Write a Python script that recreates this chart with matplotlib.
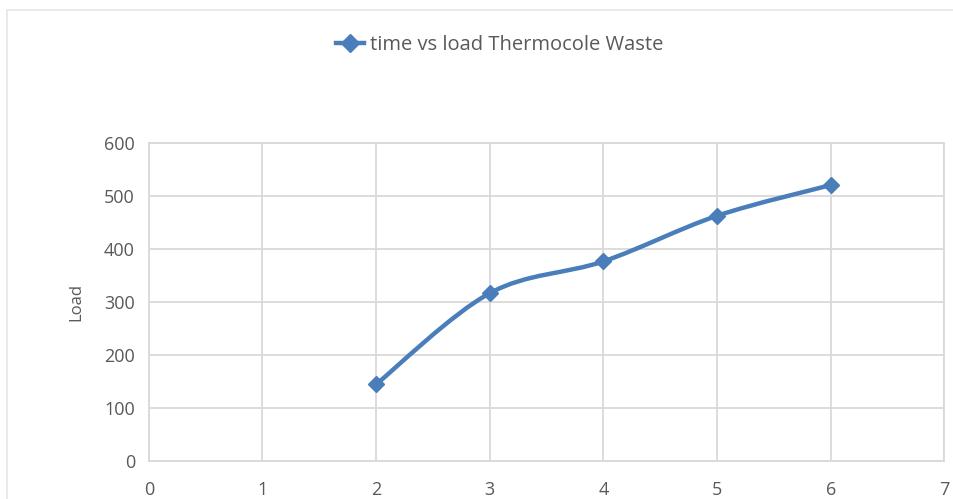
import numpy as np
import matplotlib
matplotlib.use("Agg")
import matplotlib.pyplot as plt
from matplotlib.path import Path
from matplotlib.patches import PathPatch, Rectangle
from matplotlib.lines import Line2D

time = [2, 3, 4, 5, 6]
load = [145, 317, 377, 463, 521]
series_name = "time vs load Thermocole Waste"
x_ticks = [0, 1, 2, 3, 4, 5, 6, 7]
y_ticks = [0, 100, 200, 300, 400, 500, 600]

blue = "#4a7ebb"
grey_text = "#595959"
grid_col = "#d9d9d9"

plt.rcParams["font.family"] = ["Open Sans", "DejaVu Sans"]

fig = plt.figure(figsize=(9.54, 4.99), dpi=100)
ax = fig.add_axes([0.156, 0.076, 0.834, 0.637])

# Excel-style smoothed line (Catmull-Rom converted to cubic bezier)
pts = np.column_stack([time, load]).astype(float)
verts = [tuple(pts[0])]
codes = [Path.MOVETO]
for i in range(len(pts) - 1):
    p0 = pts[i - 1] if i > 0 else pts[i]
    p1 = pts[i]
    p2 = pts[i + 1]
    p3 = pts[i + 2] if i + 2 < len(pts) else pts[i + 1]
    c1 = p1 + (p2 - p0) / 6.0
    c2 = p2 - (p3 - p1) / 6.0
    verts += [tuple(c1), tuple(c2), tuple(p2)]
    codes += [Path.CURVE4] * 3
ax.add_patch(PathPatch(Path(verts, codes), facecolor="none", edgecolor=blue,
                       lw=3.2, capstyle="round", joinstyle="round", zorder=3))
ax.plot(time, load, linestyle="none", marker="D", markersize=8,
        color=blue, zorder=4)

ax.set_xlim(0, 7)
ax.set_ylim(0, 600)
ax.set_xticks(x_ticks)
ax.set_yticks(y_ticks)
ax.grid(True, color=grid_col, linewidth=1.3)
ax.set_axisbelow(True)
for s in ax.spines.values():
    s.set_color(grid_col)
    s.set_linewidth(1.3)
ax.tick_params(length=0, labelsize=13, colors=grey_text)
ax.tick_params(axis="x", pad=14)
ax.tick_params(axis="y", pad=10)
ax.set_ylabel("Load", fontsize=12, color=grey_text, labelpad=14)

handle = Line2D([], [], color=blue, lw=3.2, marker="D", markersize=9)
fig.legend([handle], [series_name], loc="center", bbox_to_anchor=(0.524, 0.91),
           frameon=False, fontsize=14.5, handlelength=1.4, handletextpad=0.3,
           labelcolor=grey_text)

# chart area border
fig.patches.append(Rectangle((7 / 954, -0.1), 1.2, 1.1 - 10 / 499,
                             transform=fig.transFigure, fill=False,
                             edgecolor="#e6e6e6", lw=1.2))

fig.savefig("out.png", dpi=100)
